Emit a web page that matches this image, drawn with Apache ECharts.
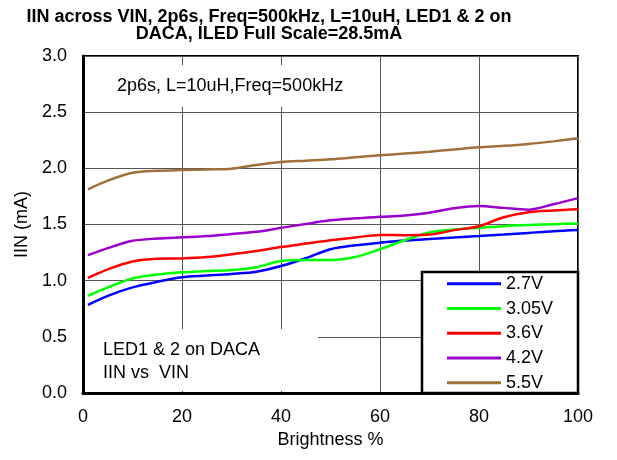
<!DOCTYPE html>
<html>
<head>
<meta charset="utf-8">
<script src="https://cdn.jsdelivr.net/npm/echarts@6/dist/echarts.min.js"></script>
<style>html,body{margin:0;padding:0;background:#fff;}#c{width:617px;height:460px;}</style>
</head>
<body>
<div id="c"></div>
<script>
var brightness = [1, 5, 10, 15, 20, 25, 30, 35, 40, 45, 50, 55, 60, 65, 70, 75, 80, 85, 90, 95, 100];
var v27  = [0.785, 0.865, 0.94, 0.99, 1.03, 1.045, 1.06, 1.08, 1.13, 1.20, 1.28, 1.315, 1.338, 1.358, 1.37, 1.385, 1.397, 1.41, 1.425, 1.44, 1.45];
var v305 = [0.865, 0.94, 1.02, 1.055, 1.075, 1.085, 1.095, 1.12, 1.175, 1.183, 1.183, 1.21, 1.28, 1.36, 1.43, 1.455, 1.47, 1.485, 1.495, 1.503, 1.51];
var v36  = [1.024, 1.10, 1.17, 1.195, 1.198, 1.21, 1.235, 1.265, 1.30, 1.33, 1.36, 1.385, 1.406, 1.405, 1.41, 1.45, 1.485, 1.565, 1.61, 1.625, 1.635];
var v42  = [1.228, 1.29, 1.355, 1.375, 1.386, 1.397, 1.415, 1.435, 1.47, 1.505, 1.537, 1.555, 1.568, 1.58, 1.605, 1.645, 1.665, 1.648, 1.632, 1.68, 1.735];
var v55  = [1.813, 1.89, 1.96, 1.978, 1.985, 1.99, 1.997, 2.03, 2.056, 2.068, 2.08, 2.098, 2.116, 2.132, 2.148, 2.168, 2.187, 2.2, 2.217, 2.24, 2.267];
var seriesNames = ['2.7V', '3.05V', '3.6V', '4.2V', '5.5V'];
var seriesColors = ['#0000FF', '#00FF00', '#FF0000', '#9900CC', '#A0703A'];
var seriesValues = [v27, v305, v36, v42, v55];
var xTicks = [0, 20, 40, 60, 80, 100];
var yTicks = [0, 0.5, 1.0, 1.5, 2.0, 2.5, 3.0];

var FONT = '"Liberation Sans", Arial, sans-serif';
var chart = echarts.init(document.getElementById('c'), null, {renderer: 'canvas'});

function pairs(vals) {
  return brightness.map(function (b, i) { return [b, vals[i]]; });
}

var series = seriesNames.map(function (n, i) {
  return {
    name: n,
    type: 'line',
    data: pairs(seriesValues[i]),
    smooth: 0.3,
    showSymbol: false,
    symbol: 'none',
    lineStyle: {color: seriesColors[i], width: 2.5},
    itemStyle: {color: seriesColors[i]},
    z: 3
  };
});

chart.setOption({
  animation: false,
  backgroundColor: '#fff',
  grid: {left: 83, right: 39, top: 56, bottom: 67, show: true, borderColor: '#000', borderWidth: 2, backgroundColor: 'transparent'},
  xAxis: {
    type: 'value', min: xTicks[0], max: xTicks[xTicks.length - 1], interval: 20,
    name: 'Brightness %', nameLocation: 'middle', nameGap: 34,
    nameTextStyle: {fontFamily: FONT, fontSize: 18, color: '#000'},
    axisLine: {show: true, onZero: false, lineStyle: {color: '#000', width: 3}},
    axisTick: {show: false},
    axisLabel: {fontFamily: FONT, fontSize: 18, color: '#000', margin: 15},
    splitLine: {show: true, lineStyle: {color: '#555', width: 1}}
  },
  yAxis: {
    type: 'value', min: yTicks[0], max: yTicks[yTicks.length - 1], interval: 0.5,
    name: 'IIN (mA)', nameLocation: 'middle', nameGap: 46,
    nameTextStyle: {fontFamily: FONT, fontSize: 18, color: '#000'},
    axisLine: {show: true, lineStyle: {color: '#000', width: 3}},
    axisTick: {show: false},
    axisLabel: {fontFamily: FONT, fontSize: 18, color: '#000', margin: 16, formatter: function (v) { return v.toFixed(1); }},
    splitLine: {show: true, lineStyle: {color: '#555', width: 1}}
  },
  legend: {
    orient: 'vertical', left: 447, top: 271.5, padding: 0,
    itemWidth: 54, itemHeight: 3, itemGap: 0, icon: 'rect',
    data: seriesNames,
    textStyle: {fontFamily: FONT, fontSize: 18, color: '#000', lineHeight: 24.7},
    z: 20
  },
  graphic: [
    {type: 'text', x: 269, y: 26, z: 20,
      style: {text: 'IIN across VIN, 2p6s, Freq=500kHz, L=10uH, LED1 & 2 on\nDACA, ILED Full Scale=28.5mA',
        font: 'bold 18px ' + FONT, fill: '#000', align: 'center', verticalAlign: 'middle', lineHeight: 17}},
    {type: 'rect', x: 85, y: 65, z: 10, shape: {width: 270, height: 42}, style: {fill: '#fff'}},
    {type: 'text', x: 117, y: 86, z: 11,
      style: {text: '2p6s, L=10uH,Freq=500kHz', font: '18px ' + FONT, fill: '#000', verticalAlign: 'middle'}},
    {type: 'rect', x: 85, y: 329, z: 10, shape: {width: 233, height: 62}, style: {fill: '#fff'}},
    {type: 'text', x: 103, y: 362, z: 11,
      style: {text: 'LED1 & 2 on DACA\nIIN vs  VIN', font: '18px ' + FONT, fill: '#000', verticalAlign: 'middle', lineHeight: 23}},
    {type: 'rect', x: 422, y: 272, z: 10, shape: {width: 156, height: 121}, style: {fill: '#fff', stroke: '#000', lineWidth: 2.5}}
  ],
  series: series
});
</script>
</body>
</html>
